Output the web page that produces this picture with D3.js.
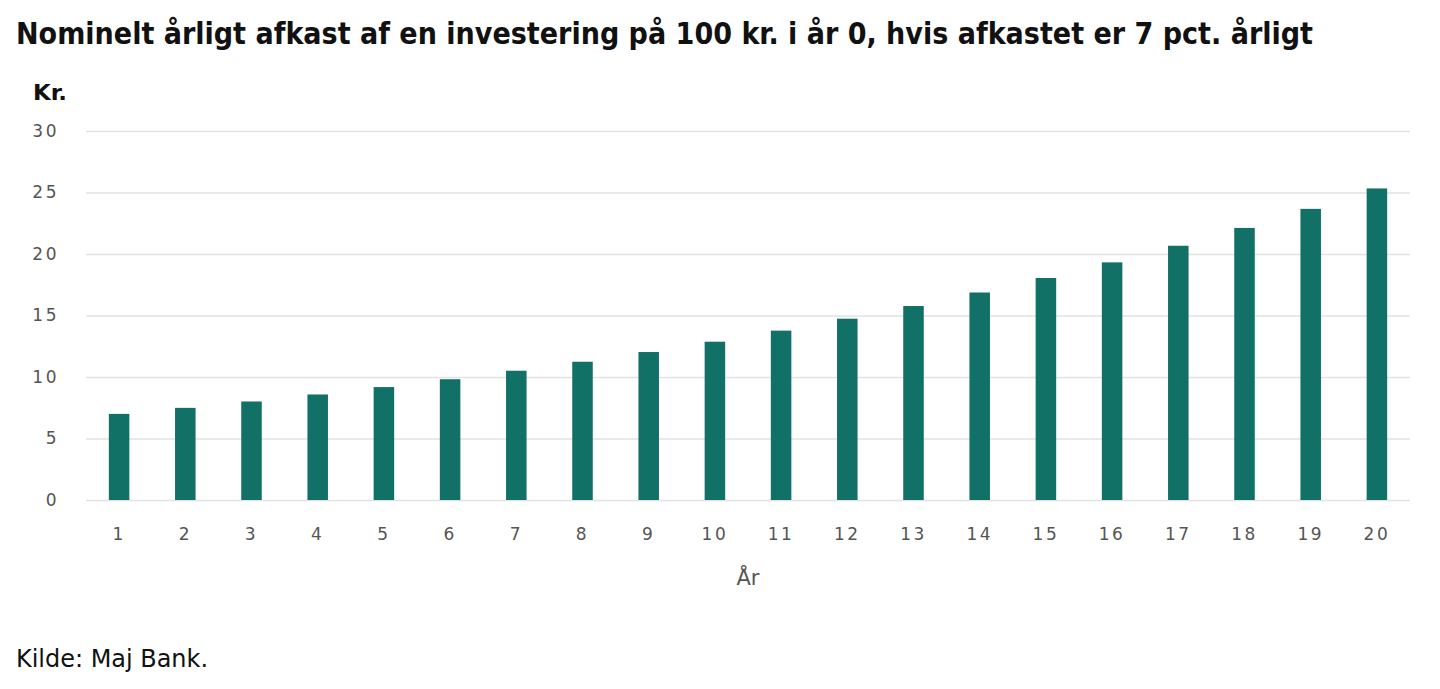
<!DOCTYPE html>
<html><head><meta charset="utf-8">
<script src="https://cdn.jsdelivr.net/npm/d3@7"></script>
<style>
body{margin:0;background:#fff;}
svg{display:block;}
</style></head>
<body>
<svg id="chart" width="1440" height="689"></svg>
<script>
const years = [1,2,3,4,5,6,7,8,9,10,11,12,13,14,15,16,17,18,19,20];
const returns = [7.00,7.49,8.01,8.58,9.18,9.82,10.51,11.24,12.03,12.87,13.77,14.74,15.77,16.87,18.05,19.32,20.67,22.12,23.67,25.33];
const yTicks = [0,5,10,15,20,25,30];
const titleText = "Nominelt årligt afkast af en investering på 100 kr. i år 0, hvis afkastet er 7 pct. årligt";
const unitText = "Kr.";
const xAxisTitle = "År";
const sourceText = "Kilde: Maj Bank.";

(function(){
const svg = d3.select("#chart");
const mLeft = 86, mRight = 1410, mTop = 131, mBottom = 500;

const x = d3.scaleBand().domain(years).range([mLeft, mRight]).paddingInner(0.69).paddingOuter(0.345);
const y = d3.scaleLinear().domain([0, 30]).range([mBottom, mTop]);

svg.append("text").attr("x", 16).attr("y", 44)
  .attr("font-family", "'DejaVu Sans Condensed', 'DejaVu Sans', sans-serif")
  .attr("font-weight", "bold").attr("font-size", 30).attr("fill", "#111")
  .attr("textLength", 1297).attr("lengthAdjust", "spacingAndGlyphs")
  .text(titleText);

svg.append("text").attr("x", 33).attr("y", 100)
  .attr("font-family", "'DejaVu Sans Condensed', 'DejaVu Sans', sans-serif")
  .attr("font-weight", "bold").attr("font-size", 22).attr("fill", "#111")
  .attr("textLength", 34).attr("lengthAdjust", "spacingAndGlyphs")
  .text(unitText);

const yAxis = d3.axisLeft(y).tickValues(yTicks).tickSize(-(mRight - mLeft)).tickPadding(27);
const gy = svg.append("g").attr("transform", `translate(${mLeft},0)`).call(yAxis);
gy.select(".domain").remove();
gy.selectAll(".tick line").attr("stroke", "#e2e2e2").attr("stroke-width", 1.5);
gy.selectAll(".tick text").attr("fill", "#555").attr("font-size", 17)
  .attr("font-family", "'DejaVu Sans', sans-serif").attr("letter-spacing", 2.5);

svg.append("g").selectAll("rect").data(returns).join("rect")
  .attr("x", (d, i) => x(years[i]))
  .attr("width", x.bandwidth())
  .attr("y", d => y(d))
  .attr("height", d => y(0) - y(d))
  .attr("fill", "#127166");

const xAxis = d3.axisBottom(x).tickSize(0).tickPadding(28);
const gx = svg.append("g").attr("transform", `translate(0,${mBottom})`).call(xAxis);
gx.select(".domain").remove();
gx.selectAll(".tick text").attr("fill", "#555").attr("font-size", 17)
  .attr("font-family", "'DejaVu Sans', sans-serif").attr("letter-spacing", 2.5);

svg.append("text").attr("x", (mLeft + mRight) / 2).attr("y", 585)
  .attr("text-anchor", "middle")
  .attr("font-family", "'DejaVu Sans', sans-serif")
  .attr("font-size", 21).attr("fill", "#555")
  .text(xAxisTitle);

svg.append("text").attr("x", 16).attr("y", 667)
  .attr("font-family", "'DejaVu Sans Condensed', 'DejaVu Sans', sans-serif")
  .attr("font-size", 24).attr("fill", "#111")
  .attr("textLength", 192).attr("lengthAdjust", "spacingAndGlyphs")
  .text(sourceText);
})();
</script>
</body></html>
